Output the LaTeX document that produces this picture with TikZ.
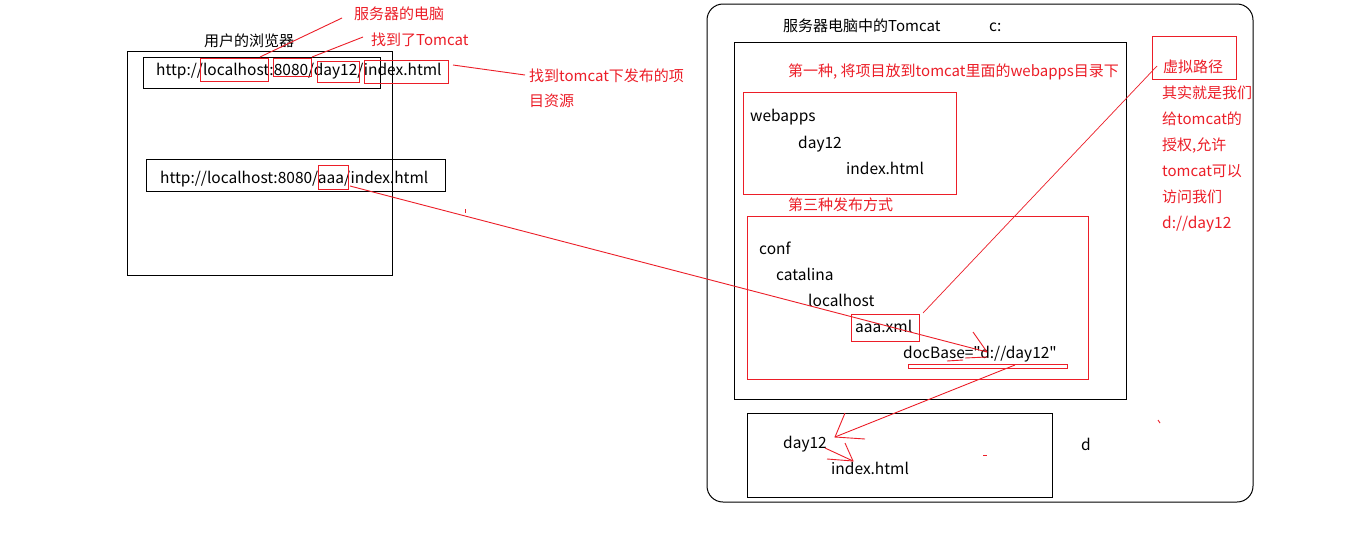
\documentclass[tikz,border=0pt]{standalone}
\usepackage{fontspec}
\newfontfamily\mainf{Noto Sans CJK SC}
\definecolor{redc}{RGB}{236,30,40}
\begin{document}
\begin{tikzpicture}[x=1pt,y=-1pt,
  txt/.style={anchor=base west, inner sep=0pt, font=\mainf\fontsize{15}{18}\selectfont, text=black},
  ltxt/.style={txt, font=\mainf\fontsize{15.5}{18}\selectfont},
  rtxt/.style={txt, text=redc},
  rltxt/.style={ltxt, text=redc},
  bbox/.style={draw=black, line width=1pt, inner sep=0pt},
  rbox/.style={draw=redc, line width=1pt, inner sep=0pt},
  rline/.style={draw=redc, line width=0.9pt}]
\fill[white] (0,0) rectangle (1360,539);
\useasboundingbox (0,0) rectangle (1360,539);

% ---------- browser ----------
\node[bbox, minimum width=265pt, minimum height=224pt] (browser) at (259.5,163) {};
\node[txt] (btitle) at (204,46) {用户的浏览器};
\node[bbox, minimum width=237pt, minimum height=31pt] (url1box) at (261.5,72.5) {};
\node[ltxt] (url1) at (156,75) {http://localhost:8080/day12/index.html};
\node[rbox, minimum width=68pt, minimum height=23pt] (rlocal) at (234,69.5) {};
\node[rbox, minimum width=38pt, minimum height=18pt] (r8080) at (292,67) {};
\node[rbox, minimum width=42pt, minimum height=21pt] (rday) at (338,71.5) {};
\node[rbox, minimum width=84pt, minimum height=23pt] (rindex) at (406,71.5) {};

\node[rtxt] (lblpc) at (354,19.5) {服务器的电脑};
\node[rtxt] (lbltc) at (371,45.5) {找到了Tomcat};
\node[rtxt] (lblres1) at (529,81) {找到tomcat下发布的项};
\node[rtxt] (lblres2) at (529,106) {目资源};

\coordinate (l1a) at (260,57);
\coordinate (l1b) at (342,18);
\coordinate (l2a) at (312,57);
\coordinate (l2b) at (363,37);
\coordinate (l3a) at (453,65);
\coordinate (l3b) at (525,75);
\draw[rline] (l1a) -- (l1b);
\draw[rline] (l2a) -- (l2b);
\draw[rline] (l3a) -- (l3b);

\node[bbox, minimum width=299pt, minimum height=32pt] (url2box) at (295.5,175) {};
\node[ltxt] (url2) at (160,183.5) {http://localhost:8080/aaa/index.html};
\node[rbox, minimum width=30pt, minimum height=24pt] (raaa) at (333,177) {};

% ---------- server ----------
\node[bbox, rounded corners=16pt, minimum width=546pt, minimum height=498pt] (server) at (980,253) {};
\node[txt] (stitle) at (783,31.5) {服务器电脑中的Tomcat};
\node[ltxt] (cdrive) at (989,31.5) {c:};
\node[bbox, minimum width=392pt, minimum height=357pt] (tomcat) at (930,220.5) {};
\node[rtxt] (first) at (788,76.5) {第一种, 将项目放到tomcat里面的webapps目录下};

\node[rbox, minimum width=213pt, minimum height=102pt] (webbox) at (849.5,143) {};
\node[ltxt] (webapps) at (750,121) {webapps};
\node[ltxt] (wday) at (798,148) {day12};
\node[ltxt] (windex) at (846,174) {index.html};

\node[rtxt] (third) at (788,210) {第三种发布方式};
\node[rbox, minimum width=341pt, minimum height=163pt] (confbox) at (917.5,297.5) {};
\node[ltxt] (conf) at (759,254) {conf};
\node[ltxt] (catalina) at (776,280) {catalina};
\node[ltxt] (localhost) at (808,306) {localhost};
\node[ltxt] (aaaxml) at (855,332) {aaa.xml};
\node[rbox, minimum width=68pt, minimum height=27pt] (xmlbox) at (885,327.5) {};
\node[ltxt] (docbase) at (903,358) {docBase="d://day12"};
\node[rbox, minimum width=159pt, minimum height=4.5pt] (docline) at (987.5,366.3) {};

\node[rbox, minimum width=84pt, minimum height=43pt] (vbox) at (1194,57.5) {};
\node[rtxt] (virt) at (1163,72) {虚拟路径};
\node[rtxt] (n1) at (1162,98) {其实就是我们};
\node[rtxt] (n2) at (1162,124) {给tomcat的};
\node[rtxt] (n3) at (1162,150) {授权,允许};
\node[rtxt] (n4) at (1162,176) {tomcat可以};
\node[rtxt] (n5) at (1162,202) {访问我们};
\node[rltxt] (n6) at (1162,228) {d://day12};

\node[bbox, minimum width=305pt, minimum height=84pt] (dbox) at (899.5,455) {};
\node[ltxt] (dday) at (783,448) {day12};
\node[ltxt] (dindex) at (831,474) {index.html};
\node[ltxt] (ddrive) at (1081,450) {d};

% ---------- connectors ----------
\coordinate (v1) at (923,313);
\coordinate (v2) at (1157,66);
\draw[redc, line width=0.7pt] (v1) -- (v2);

\coordinate (a1) at (350,186);
\coordinate (a2) at (987,352);
\draw[rline] (a1) -- (a2);
\coordinate (ah1) at (973,332);
\draw[rline] (ah1) -- (a2);
\coordinate (u1a) at (947,361);
\coordinate (u1b) at (963,360);
\coordinate (u2a) at (965,358);
\coordinate (u2b) at (987,357);
\draw[rline] (u1a) -- (u1b);
\draw[rline] (u2a) -- (u2b);

\coordinate (b1) at (1015,365);
\coordinate (b2) at (835,437);
\coordinate (bh1) at (845,413);
\coordinate (bh2) at (865,439);
\draw[rline] (b1) -- (b2);
\draw[rline] (bh1) -- (b2) -- (bh2);

\coordinate (c1) at (825,448);
\coordinate (c2) at (853,461);
\coordinate (ch1) at (845,443);
\coordinate (ch2) at (827,459);
\draw[rline] (c1) -- (c2);
\draw[rline] (ch1) -- (c2) -- (ch2);

% stray marks
\coordinate (s1a) at (465,209);
\coordinate (s1b) at (465,213);
\draw[rline] (s1a) -- (s1b);
\coordinate (s2a) at (983,455);
\coordinate (s2b) at (987,455);
\draw[rline] (s2a) -- (s2b);
\coordinate (s3a) at (1158,420);
\coordinate (s3b) at (1160,423);
\draw[rline] (s3a) -- (s3b);
\end{tikzpicture}
\end{document}
